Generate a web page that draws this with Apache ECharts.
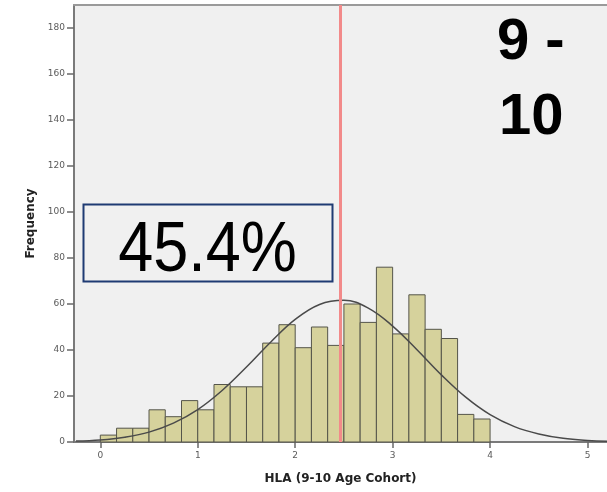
<!DOCTYPE html>
<html>
<head>
<meta charset="utf-8">
<script src="https://cdn.jsdelivr.net/npm/echarts@6/dist/echarts.min.js"></script>
<style>
  html, body { margin: 0; padding: 0; background: #ffffff; }
  #chart { width: 607px; height: 492px; }
</style>
</head>
<body>
<div id="chart"></div>
<script>
// Histogram of HLA scores: bins start at 0 and are 1/6 wide
const binStart = 0;
const binWidth = 1 / 6;
const binCounts = [3, 6, 6, 14, 11, 18, 14, 25, 24, 24, 43, 51, 41, 50, 42, 60, 52, 76, 47, 64, 49, 45, 12, 10];

// Fitted normal curve, sampled every 0.25
const curveX = [-0.25, 0, 0.25, 0.5, 0.75, 1, 1.25, 1.5, 1.75, 2, 2.25, 2.5, 2.75, 3, 3.25, 3.5, 3.75, 4, 4.25, 4.5, 4.75, 5, 5.25];
const curveY = [0.4, 0.9, 2.1, 4.3, 8.2, 14.1, 22.4, 32.6, 43.5, 53.3, 59.8, 61.6, 58.2, 50.4, 40.1, 29.2, 19.5, 11.9, 6.7, 3.5, 1.6, 0.7, 0.3];

// Cut-off marker
const cutOff = 2.46;

const xTicks = [0, 1, 2, 3, 4, 5];
const yTicks = [0, 20, 40, 60, 80, 100, 120, 140, 160, 180];

const shareText = '45.4%';
const cohortText = ['9 -', '10'];
const xTitle = 'HLA (9-10 Age Cohort)';
const yTitle = 'Frequency';

const binData = binCounts.map((c, i) => [binStart + i * binWidth, binStart + (i + 1) * binWidth, c]);
const curveData = curveX.map((x, i) => [x, curveY[i]]);

const chart = echarts.init(document.getElementById('chart'), null, { renderer: 'canvas' });

const tickFont = { fontFamily: 'DejaVu Sans', fontSize: 9, color: '#5a5a5a' };

chart.setOption({
  animation: false,
  backgroundColor: '#ffffff',
  grid: {
    left: 74, right: 0, top: 5, bottom: 50,
    show: true, backgroundColor: '#f0f0f0', borderWidth: 0
  },
  xAxis: [{
    type: 'value',
    min: -0.27, max: 5.2,
    name: xTitle,
    nameLocation: 'middle',
    nameGap: 31,
    nameTextStyle: { fontFamily: 'DejaVu Sans', fontWeight: 'bold', fontSize: 12, color: '#222' },
    axisLine: { show: true, onZero: false, lineStyle: { color: '#7a7a7a', width: 2 } },
    axisTick: { show: true, length: 6, customValues: xTicks, lineStyle: { color: '#6a6a6a', width: 1.5 } },
    axisLabel: Object.assign({ margin: 9, customValues: xTicks }, tickFont),
    splitLine: { show: false }
  }, {
    type: 'value',
    position: 'top',
    min: -0.27, max: 5.2,
    axisLine: { show: true, onZero: false, lineStyle: { color: '#9a9a9a', width: 2 } },
    axisTick: { show: false },
    axisLabel: { show: false },
    splitLine: { show: false }
  }],
  yAxis: {
    type: 'value',
    min: 0, max: 190,
    name: yTitle,
    nameLocation: 'middle',
    nameGap: 36,
    nameTextStyle: { fontFamily: 'DejaVu Sans', fontWeight: 'bold', fontSize: 12, color: '#222' },
    axisLine: { show: true, onZero: false, lineStyle: { color: '#7a7a7a', width: 2 } },
    axisTick: { show: true, length: 7, customValues: yTicks, lineStyle: { color: '#6a6a6a', width: 1.5 } },
    axisLabel: Object.assign({ margin: 9, customValues: yTicks }, tickFont),
    splitLine: { show: false }
  },
  series: [{
    type: 'custom',
    data: binData,
    encode: { x: [0, 1], y: 2 },
    z: 2,
    renderItem: function (params, api) {
      const p0 = api.coord([api.value(0), api.value(2)]);
      const p1 = api.coord([api.value(1), 0]);
      return {
        type: 'rect',
        shape: { x: p0[0], y: p0[1], width: p1[0] - p0[0], height: p1[1] - p0[1] },
        style: { fill: '#d6d29c', stroke: '#55554a', lineWidth: 1 }
      };
    }
  }, {
    type: 'line',
    data: curveData,
    smooth: 0.4,
    showSymbol: false,
    clip: true,
    z: 3,
    lineStyle: { color: '#4a4a4a', width: 1.5 },
    markLine: {
      silent: true,
      symbol: 'none',
      label: { show: false },
      lineStyle: { color: '#f28a8a', width: 3, type: 'solid' },
      data: [{ xAxis: cutOff }]
    }
  }],
  graphic: [{
    type: 'rect',
    z: 10,
    shape: { x: 83.5, y: 204.5, width: 249, height: 77 },
    style: { fill: 'none', stroke: '#1f3b73', lineWidth: 2 }
  }, {
    type: 'text',
    z: 11,
    x: 207.5, y: 252,
    scaleX: 0.9,
    style: {
      text: shareText, fontFamily: 'Liberation Sans', fontSize: 70,
      fill: '#000', align: 'center', verticalAlign: 'middle'
    }
  }, {
    type: 'text',
    z: 11,
    x: 497, y: 43,
    style: {
      text: cohortText[0], fontFamily: 'Liberation Sans', fontWeight: 'bold', fontSize: 58,
      fill: '#000', align: 'left', verticalAlign: 'middle'
    }
  }, {
    type: 'text',
    z: 11,
    x: 499, y: 118,
    style: {
      text: cohortText[1], fontFamily: 'Liberation Sans', fontWeight: 'bold', fontSize: 58,
      fill: '#000', align: 'left', verticalAlign: 'middle'
    }
  }]
});
</script>
</body>
</html>
